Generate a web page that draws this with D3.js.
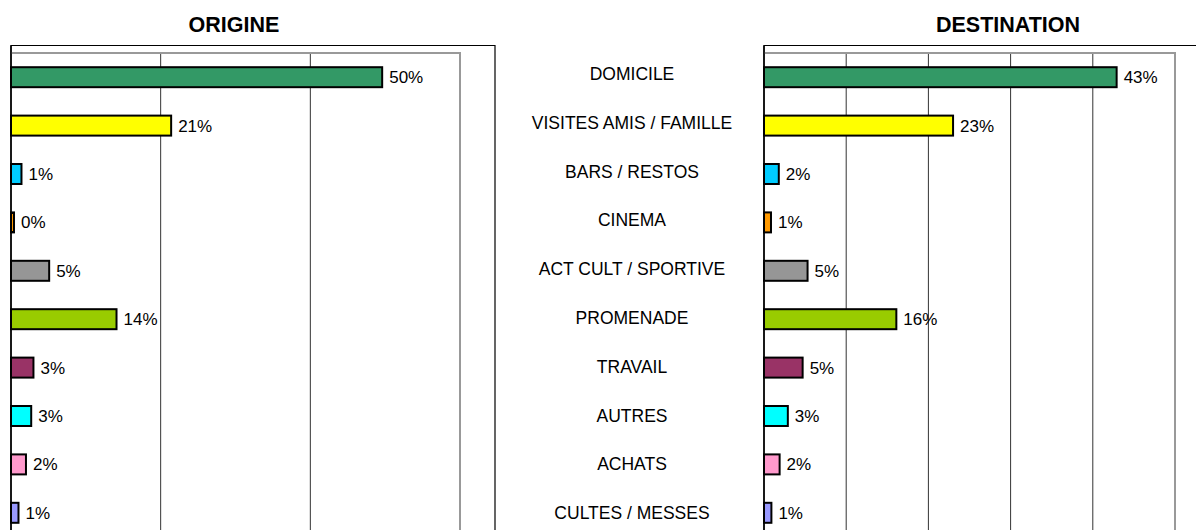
<!DOCTYPE html>
<html>
<head>
<meta charset="utf-8">
<script src="https://cdn.jsdelivr.net/npm/d3@7"></script>
<style>
  body { margin: 0; background: #fff; }
  text { font-family: "Liberation Sans", Arial, sans-serif; fill: #000; }
</style>
</head>
<body>
<svg id="chart" width="1196" height="530"></svg>
<script>
// categories, top to bottom
var categories = ["DOMICILE", "VISITES AMIS / FAMILLE", "BARS / RESTOS", "CINEMA",
  "ACT CULT / SPORTIVE", "PROMENADE", "TRAVAIL", "AUTRES", "ACHATS", "CULTES / MESSES"];
var colors = ["#339966", "#ffff00", "#00ccff", "#ff9900", "#969696",
  "#99cc00", "#993366", "#00ffff", "#ff99cc", "#9999ff"];

// values (percent)
var origine = [49.6, 21.4, 1.4, 0.4, 5.1, 14.1, 3.0, 2.7, 2.0, 1.0];
var destination = [42.9, 23.0, 1.8, 0.85, 5.3, 16.1, 4.7, 2.9, 1.9, 0.9];
// printed labels
var origineLabels = ["50%", "21%", "1%", "0%", "5%", "14%", "3%", "3%", "2%", "1%"];
var destinationLabels = ["43%", "23%", "2%", "1%", "5%", "16%", "5%", "3%", "2%", "1%"];

var svg = d3.select("#chart");

var y = d3.scaleBand().domain(categories)
	.range([53, 537]).paddingInner(0.587).paddingOuter(0.2935);
var yLab = d3.scalePoint().domain(categories).range([74, 513]);

function panel(opts) {
	var x = opts.x;
	var g = svg.append("g");
	var x0 = x.range()[0], x1 = x.range()[1];

	// outer chart frame
	g.append("path")
		.attr("d", "M" + x0 + ",540V" + 45.5 + "H" + opts.frameRight + (opts.frameRight < 1196 ? "V540" : ""))
		.attr("fill", "none").attr("stroke", "#000").attr("stroke-width", 1.2);

	// gridlines
	g.selectAll("line.grid").data(opts.ticks).enter().append("line")
		.attr("class", "grid")
		.attr("x1", function(d) { return x(d); })
		.attr("x2", function(d) { return x(d); })
		.attr("y1", 53).attr("y2", 540)
		.attr("stroke", "#333").attr("stroke-width", 1);

	// plot area border
	g.append("path")
		.attr("d", "M" + x0 + ",53H" + x1 + "V540")
		.attr("fill", "none").attr("stroke", "#999").attr("stroke-width", 2);

	// bars
	g.selectAll("rect.bar").data(opts.values).enter().append("rect")
		.attr("class", "bar")
		.attr("x", x0)
		.attr("y", function(d, i) { return y(categories[i]); })
		.attr("width", function(d) { return x(d) - x0; })
		.attr("height", y.bandwidth())
		.attr("fill", function(d, i) { return colors[i]; })
		.attr("stroke", "#000").attr("stroke-width", 2);

	// axis line
	g.append("line")
		.attr("x1", x0).attr("x2", x0).attr("y1", 45.5).attr("y2", 540)
		.attr("stroke", "#000").attr("stroke-width", 1.5);

	// value labels
	g.selectAll("text.val").data(opts.values).enter().append("text")
		.attr("class", "val")
		.attr("x", function(d) { return x(d) + 7; })
		.attr("y", function(d, i) { return y(categories[i]) + y.bandwidth() / 2; })
		.attr("dy", "0.35em")
		.style("font-size", "17px")
		.text(function(d, i) { return opts.labels[i]; });

	// title
	svg.append("text")
		.attr("x", opts.titleX).attr("y", 32)
		.attr("text-anchor", "middle")
		.style("font-size", "21.5px").style("font-weight", "bold")
		.text(opts.title);
}

panel({
	x: d3.scaleLinear().domain([0, 60]).range([11, 460]),
	ticks: [20, 40],
	values: origine,
	labels: origineLabels,
	title: "ORIGINE",
	titleX: 234,
	frameRight: 495
});

panel({
	x: d3.scaleLinear().domain([0, 50]).range([764, 1175]),
	ticks: [10, 20, 30, 40],
	values: destination,
	labels: destinationLabels,
	title: "DESTINATION",
	titleX: 1008,
	frameRight: 1200
});

// category labels in the middle
svg.selectAll("text.cat").data(categories).enter().append("text")
	.attr("class", "cat")
	.attr("x", 632)
	.attr("y", function(d) { return yLab(d); })
	.attr("dy", "0.35em")
	.attr("text-anchor", "middle")
	.style("font-size", "17.5px")
	.text(function(d) { return d; });
</script>
</body>
</html>
